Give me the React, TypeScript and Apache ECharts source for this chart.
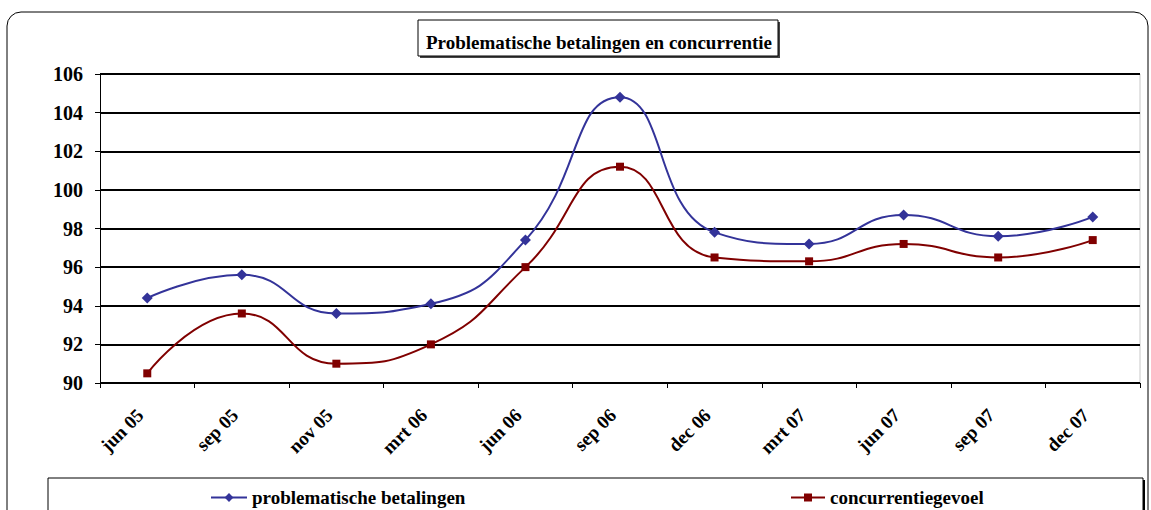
import React, { useEffect, useRef } from "react";
import * as echarts from "echarts";

const categories = ["jun 05", "sep 05", "nov 05", "mrt 06", "jun 06", "sep 06", "dec 06", "mrt 07", "jun 07", "sep 07", "dec 07"];
const problematisch = [94.4, 95.6, 93.6, 94.1, 97.4, 104.8, 97.8, 97.2, 98.7, 97.6, 98.6];
const concurrentie = [90.5, 93.6, 91.0, 92.0, 96.0, 101.2, 96.5, 96.3, 97.2, 96.5, 97.4];
const titleText = "Problematische betalingen en concurrentie";
const seriesNames = ["problematische betalingen", "concurrentiegevoel"];

const FONT = "'Liberation Serif', 'Times New Roman', serif";

export default function App() {
  const ref = useRef<HTMLDivElement>(null);
  useEffect(() => {
    if (!ref.current) return;
    const chart = echarts.init(ref.current, null, { renderer: "svg" });
    chart.setOption({
      animation: false,
      backgroundColor: "#fff",
      textStyle: { fontFamily: FONT },
      title: {
        text: titleText,
        left: 594,
        top: 28,
        textAlign: "center",
        textStyle: { fontFamily: FONT, fontWeight: "bold", fontSize: 19, color: "#000" },
      },
      legend: [
        {
          data: [seriesNames[0]],
          left: 205,
          top: 483,
          itemWidth: 36,
          itemHeight: 11,
          itemGap: 5,
          textStyle: { fontFamily: FONT, fontWeight: "bold", fontSize: 19, color: "#000" },
        },
        {
          data: [seriesNames[1]],
          left: 785,
          top: 483,
          itemWidth: 34,
          itemHeight: 10,
          textStyle: { fontFamily: FONT, fontWeight: "bold", fontSize: 19, color: "#000" },
        },
      ],
      grid: { left: 100, right: 11, top: 74, bottom: 127, containLabel: false },
      xAxis: {
        type: "category",
        data: categories,
        boundaryGap: true,
        axisLine: { lineStyle: { color: "#000", width: 1 } },
        axisTick: { show: true, length: 5, lineStyle: { color: "#000" } },
        axisLabel: {
          rotate: 45,
          margin: 22,
          padding: [0, 10, 0, 0],
          fontFamily: FONT,
          fontWeight: "bold",
          fontSize: 19,
          color: "#000",
        },
      },
      yAxis: {
        type: "value",
        min: 90,
        max: 106,
        interval: 2,
        axisLine: { show: true, lineStyle: { color: "#000", width: 1 } },
        axisTick: { show: true, length: 5, lineStyle: { color: "#000" } },
        axisLabel: { fontFamily: FONT, fontWeight: "bold", fontSize: 20, color: "#000", margin: 17 },
        splitLine: { show: true, lineStyle: { color: "#000", width: 2 } },
      },
      graphic: [
        {
          type: "rect",
          shape: { x: 7, y: 12, width: 1141, height: 520, r: 14 },
          style: { fill: "none", stroke: "#000", lineWidth: 1 },
          silent: true,
          z: 100,
        },
        {
          type: "rect",
          shape: { x: 420, y: 22, width: 360, height: 36 },
          style: { fill: "#444" },
          silent: true,
          z: -1,
        },
        {
          type: "rect",
          shape: { x: 418, y: 20, width: 360, height: 36 },
          style: { fill: "#fff", stroke: "#000", lineWidth: 1 },
          silent: true,
          z: -1,
        },
        {
          type: "line",
          shape: { x1: 1140, y1: 74, x2: 1140, y2: 383 },
          style: { stroke: "#c8c8c8", lineWidth: 1 },
          silent: true,
        },
        {
          type: "rect",
          shape: { x: 50, y: 480, width: 1095, height: 40 },
          style: { fill: "#000" },
          silent: true,
          z: -1,
        },
        {
          type: "rect",
          shape: { x: 48, y: 478, width: 1095, height: 40 },
          style: { fill: "#fff", stroke: "#000", lineWidth: 1 },
          silent: true,
          z: -1,
        },
      ],
      series: [
        {
          name: seriesNames[0],
          type: "line",
          data: problematisch,
          smooth: 0.5,
          symbol: "diamond",
          symbolSize: 11,
          color: "#333399",
          lineStyle: { width: 2, color: "#333399" },
          itemStyle: { color: "#333399" },
        },
        {
          name: seriesNames[1],
          type: "line",
          data: concurrentie,
          smooth: 0.5,
          symbol: "rect",
          symbolSize: 8,
          color: "#800000",
          lineStyle: { width: 2, color: "#800000" },
          itemStyle: { color: "#800000" },
        },
      ],
    });
    return () => chart.dispose();
  }, []);
  return (
    <div
      ref={ref}
      style={{ position: "fixed", left: 0, top: 0, width: 1151, height: 510 }}
    />
  );
}
